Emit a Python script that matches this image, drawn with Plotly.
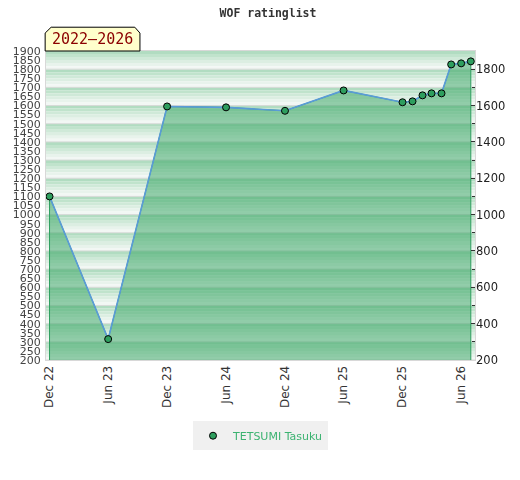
import plotly.graph_objects as go

# ── Data ──────────────────────────────────────────────────────
DATES = ["2022-12-01", "2023-06-01", "2023-12-01", "2024-06-01", "2024-12-01",
         "2025-06-01", "2025-12-01", "2026-01-01", "2026-02-01", "2026-03-01",
         "2026-04-01", "2026-05-01", "2026-06-01", "2026-07-01"]
RATINGS = [1100, 315, 1595, 1590, 1571, 1683, 1618, 1623, 1656, 1667,
           1667, 1826, 1832, 1843]
PLAYER = "TETSUMI Tasuku"
PERIOD = "2022–2026"
TITLE = "WOF ratinglist"

Y_MIN, Y_MAX = 200, 1900
LEFT_TICKS = list(range(200, 1901, 50))
RIGHT_TICKS = list(range(200, 1801, 200))

# ── Striped background (one gradient band per 100 points) ─────
band_colors = ["#b1dcc1", "#c0e3cc", "#cfe9d8", "#dceee2", "#e8f3ec", "#f2f7f4"]
shapes = []
for lo in range(Y_MIN, Y_MAX, 100):
    step = 100 / len(band_colors)
    for i, c in enumerate(band_colors):
        top = lo + 100 - i * step
        shapes.append(dict(type="rect", xref="paper", yref="y", x0=0, x1=1,
                           y0=top - step, y1=top, fillcolor=c, line_width=0,
                           layer="below"))
    shapes.append(dict(type="line", xref="paper", yref="y", x0=0, x1=1,
                       y0=lo, y1=lo, line=dict(color="#d6dad7", width=1),
                       layer="below"))

# badge with cut top corners
shapes.append(dict(type="path", xref="paper", yref="paper",
                   path="M -0.002 1.0 L -0.002 1.058 L 0.012 1.077 L 0.207 1.077 "
                        "L 0.219 1.058 L 0.219 1.0 Z",
                   fillcolor="#ffffcc", line=dict(color="black", width=1)))

fig = go.Figure()

# area below the rating curve
fig.add_trace(go.Scatter(
    x=[DATES[0]] + DATES + [DATES[-1]], y=[0] + RATINGS + [0],
    fill="toself", fillcolor="rgba(55,165,100,0.52)",
    mode="lines", line=dict(color="#2e9e5e", width=1),
    showlegend=False, hoverinfo="skip",
))
fig.add_trace(go.Scatter(
    x=DATES, y=RATINGS, mode="lines",
    line=dict(color="#5a9bd8", width=1.6), showlegend=False,
))
fig.add_trace(go.Scatter(
    x=DATES, y=RATINGS, mode="markers", name=PLAYER,
    marker=dict(color="#2e9e5e", size=7, line=dict(color="black", width=1)),
))
# invisible trace to carry the right-hand axis
fig.add_trace(go.Scatter(
    x=DATES, y=RATINGS, yaxis="y2", mode="markers", opacity=0,
    showlegend=False, hoverinfo="skip",
))

# page body adds an 8px offset, so margins are shifted by that much
fig.update_layout(
    width=520, height=480,
    margin=dict(l=38, r=53, t=43, b=128),
    paper_bgcolor="white", plot_bgcolor="white",
    title=dict(text="<b>" + TITLE + "</b>", x=0.5, xanchor="center",
               y=0.9896, yanchor="middle", automargin=False,
               font=dict(family="DejaVu Sans Mono", size=11.5, color="#333")),
    shapes=shapes,
    xaxis=dict(
        type="date", range=["2022-11-20", "2026-07-14"],
        tick0="2022-12-01", dtick="M6", tickformat="%b %y",
        tickangle=-90, ticks="", showgrid=False, zeroline=False,
        showline=True, linecolor="#d8d8d8", mirror=True, automargin=False,
        tickfont=dict(family="DejaVu Sans", size=12, color="#333"),
    ),
    yaxis=dict(
        range=[Y_MIN, Y_MAX], tickvals=LEFT_TICKS, showgrid=False,
        zeroline=False, showline=True, linecolor="#d8d8d8", mirror=True,
        ticks="", ticklabelstandoff=2, automargin=False,
        tickfont=dict(family="DejaVu Sans", size=11, color="#444"),
    ),
    yaxis2=dict(
        overlaying="y", side="right", range=[Y_MIN, Y_MAX],
        tickvals=RIGHT_TICKS, ticks="inside", ticklen=4, tickcolor="#333",
        minor=dict(dtick=100, ticks="inside", ticklen=3, tickcolor="#333"),
        showgrid=False, zeroline=False, automargin=False,
        tickfont=dict(family="DejaVu Sans", size=11.5, color="#222"),
    ),
    legend=dict(orientation="h", x=0.5, xanchor="center", y=-0.245,
                yanchor="middle", bgcolor="#f0f0f0", itemwidth=30,
                font=dict(family="DejaVu Sans", size=11, color="#3cb371")),
    annotations=[dict(text=PERIOD, xref="paper", yref="paper", x=0.108,
                      y=1.038, xanchor="center", yanchor="middle",
                      showarrow=False,
                      font=dict(family="DejaVu Sans Mono", size=15,
                                color="#8b0000"))],
)

fig.write_html("out.html")
